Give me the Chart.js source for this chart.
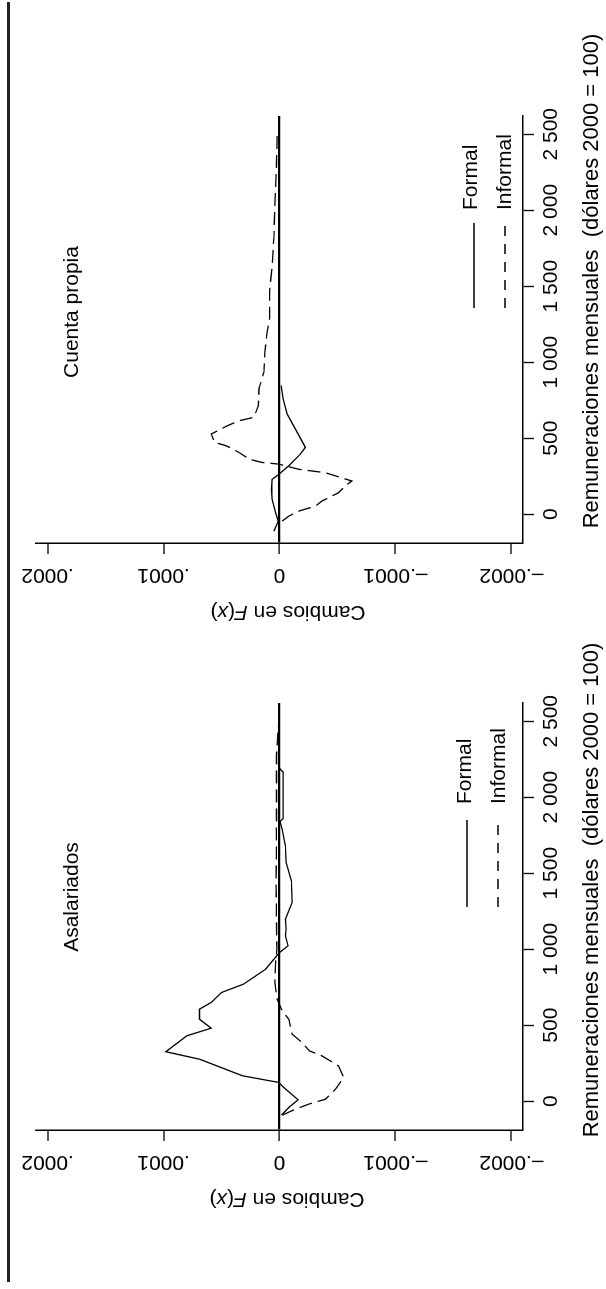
<!DOCTYPE html>
<html lang="es">
<head>
<meta charset="utf-8">
<title>Cambios en F(x)</title>
<script src="https://cdn.jsdelivr.net/npm/chart.js@4.4.0/dist/chart.umd.min.js"></script>
<style>
  html, body { margin: 0; padding: 0; background: #fff; overflow: hidden; }
  body { width: 606px; height: 1289px; position: relative; }
  /* the figure is drawn landscape and turned a quarter left, as in the print */
  #frame {
    position: absolute; left: 0; top: 0;
    width: 1289px; height: 606px;
    transform-origin: 0 0;
    transform: translateY(1289px) rotate(-90deg);
  }
  #rule { position: absolute; left: 7px; top: 7px; width: 1280px; height: 3px; background: #222; }
  canvas { position: absolute; top: 0; }
  #chartA { left: 0; }
  #chartB { left: 587px; }
</style>
</head>
<body>
<div id="frame">
  <div id="rule"></div>
  <canvas id="chartA" width="690" height="606"></canvas>
  <canvas id="chartB" width="690" height="606"></canvas>
</div>
<script>
// ---- data ----
const xTickValues = [0, 500, 1000, 1500, 2000, 2500];
const xTickLabels = ['0', '500', '1 000', '1 500', '2 000', '2 500'];
const yTickValues = [-0.0002, -0.0001, 0, 0.0001, 0.0002];
const yTickLabels = ['\u2013.0002', '\u2013.0001', '0', '.0001', '.0002'];

const xTitle = 'Remuneraciones mensuales  (d\u00f3lares 2000 = 100)';
const seriesNames = ['Formal', 'Informal'];

// Asalariados
const asalFormalRem = [-92, -42, 9, 90, 123, 167, 276, 325, 430, 480, 539, 605, 649, 715, 770, 868,
  978, 1022, 1088, 1132, 1197, 1307, 1450, 1570, 1680, 1790, 1840, 1860, 2165, 2190];
const asalFormalVal = [-1.7e-6, -8.0e-6, -1.6e-5, -3.7e-6, 0.6e-6, 3.2e-5, 6.9e-5, 9.8e-5, 8.0e-5, 5.9e-5,
  6.9e-5, 6.9e-5, 5.9e-5, 5.0e-5, 3.1e-5, 1.2e-5, 0, -7.4e-6, -5.1e-6, -5.7e-6, -5.1e-6, -1.09e-5,
  -1.03e-5, -5.7e-6, -5.1e-6, -2.3e-6, -0.5e-6, -3.1e-6, -3.0e-6, 0];

const asalInformalRem = [-92, -53, -20, 13, 79, 156, 232, 298, 331, 386, 441, 539, 594, 671, 781, 912,
  1000, 1395, 1833, 2272, 2469];
const asalInformalVal = [-2.3e-6, -1.37e-5, -2.51e-5, -3.97e-5, -4.83e-5, -5.54e-5, -5.09e-5, -3.66e-5,
  -2.57e-5, -1.94e-5, -1.09e-5, -8.0e-6, -2.3e-6, 2.0e-6, 4.0e-6, 3.4e-6, 2.3e-6, 2.9e-6, 2.6e-6,
  2.6e-6, 1.1e-6];

// Cuenta propia
const cpFormalRem = [-112, -46, 9, 97, 163, 229, 262, 318, 395, 439, 560, 659, 759, 847];
const cpFormalVal = [4.9e-6, 1.1e-6, 3.4e-6, 6.3e-6, 6.9e-6, 6.3e-6, 0.6e-6, -8.0e-6, -1.8e-5, -2.23e-5,
  -1.37e-5, -6.6e-6, -3.1e-6, -1.4e-6];

const cpInformalRem = [-46, -13, 20, 53, 86, 141, 185, 218, 273, 295, 329, 340, 362, 406, 450, 472, 527,
  582, 615, 637, 714, 825, 935, 1067, 1200, 1288, 1464, 1641, 1817, 2037, 2302, 2500];
const cpInformalVal = [-2.3e-6, -8.0e-6, -1.66e-5, -3.11e-5, -3.66e-5, -5.09e-5, -5.66e-5, -6.23e-5,
  -3.94e-5, -1.66e-5, 0.6e-6, 1.49e-5, 2.63e-5, 3.49e-5, 4.6e-5, 5.6e-5, 5.89e-5, 4.49e-5, 3.49e-5,
  2.2e-5, 1.83e-5, 1.77e-5, 1.34e-5, 1.26e-5, 1.06e-5, 8.6e-6, 8.6e-6, 6.3e-6, 4.9e-6, 4.0e-6, 2.6e-6,
  2.0e-6];

// ---- drawing ----
const FONT = '"Liberation Sans", Arial, Helvetica, sans-serif';
Chart.defaults.font.family = FONT;
Chart.defaults.font.size = 21;
Chart.defaults.color = '#000';

const toPoints = (rem, val) => rem.map((r, i) => ({ x: r, y: val[i] }));

// titles, y-axis title with italic F and x, and the little legend
const panelText = {
  id: 'panelText',
  afterDraw(chart, args, o) {
    const { ctx, chartArea: a } = chart;
    ctx.save();
    ctx.fillStyle = '#000';
    ctx.textBaseline = 'alphabetic';
    ctx.textAlign = 'center';
    ctx.font = `21px ${FONT}`;
    ctx.fillText(o.title, a.left + o.titleX, 78);
    ctx.font = `22px ${FONT}`;
    ctx.fillText(xTitle, a.left + o.xTitleX, 598);

    // legend keys
    ctx.strokeStyle = '#000';
    ctx.lineWidth = 1.3;
    ctx.textAlign = 'left';
    ctx.font = `21px ${FONT}`;
    o.legend.forEach((row, i) => {
      ctx.setLineDash(row.dash);
      ctx.beginPath();
      ctx.moveTo(a.left + o.keyFrom, row.line);
      ctx.lineTo(a.left + o.keyTo, row.line);
      ctx.stroke();
      ctx.fillText(seriesNames[i], a.left + o.keyText, row.base);
    });
    ctx.setLineDash([]);

    // y-axis title, rotated
    const parts = [['Cambios en ', false], ['F', true], ['(', false], ['x', true], [')', false]];
    const fontOf = it => `${it ? 'italic ' : ''}21px ${FONT}`;
    let total = 0;
    parts.forEach(([t, it]) => { ctx.font = fontOf(it); total += ctx.measureText(t).width; });
    ctx.translate(a.left - 69, o.yTitleY);
    ctx.rotate(-Math.PI / 2);
    ctx.textBaseline = 'middle';
    let x = -total / 2;
    parts.forEach(([t, it]) => {
      ctx.font = fontOf(it);
      ctx.fillText(t, x, 0);
      x += ctx.measureText(t).width;
    });
    ctx.restore();
  }
};

function makePanel(id, formal, informal, text) {
  return new Chart(document.getElementById(id), {
    type: 'line',
    data: {
      datasets: [
        { label: seriesNames[0], data: formal, borderColor: '#000', borderWidth: 1.3,
          pointRadius: 0, tension: 0, fill: false },
        { label: seriesNames[1], data: informal, borderColor: '#000', borderWidth: 1.3,
          borderDash: [13, 6], pointRadius: 0, tension: 0, fill: false }
      ]
    },
    options: {
      responsive: false,
      animation: false,
      devicePixelRatio: 1,
      layout: { padding: { left: 0, top: 36, right: 104, bottom: 0 } },
      plugins: { legend: { display: false }, tooltip: { enabled: false }, panelText: text },
      scales: {
        x: {
          type: 'linear', position: 'bottom', min: -190, max: 2620,
          afterBuildTicks: s => { s.ticks = xTickValues.map(v => ({ value: v })); },
          afterFit: s => { s.height = 83; },
          ticks: { autoSkip: false, maxRotation: 0, minRotation: 0, padding: 5,
            callback: (v, i) => xTickLabels[i] },
          grid: { drawOnChartArea: false, drawTicks: true, tickLength: 11, tickColor: '#000', tickWidth: 1.3 },
          border: { display: true, color: '#000', width: 1.5 }
        },
        y: {
          type: 'linear', position: 'left', min: -0.00021, max: 0.00021,
          afterBuildTicks: s => { s.ticks = yTickValues.map(v => ({ value: v })); },
          afterFit: s => { s.width = 159; },
          ticks: { autoSkip: false, minRotation: 90, maxRotation: 90, crossAlign: 'center', padding: -11.5,
            callback: (v, i) => yTickLabels[i] },
          grid: {
            drawOnChartArea: true, drawTicks: true, tickLength: 11, tickColor: '#000', tickWidth: 1.3,
            color: c => (c.tick && c.tick.value === 0 ? '#000' : 'rgba(0,0,0,0)'),
            lineWidth: c => (c.tick && c.tick.value === 0 ? 2.2 : 0)
          },
          border: { display: true, color: '#000', width: 1.5 }
        }
      }
    },
    plugins: [panelText]
  });
}

makePanel('chartA',
  toPoints(asalFormalRem, asalFormalVal),
  toPoints(asalInformalRem, asalInformalVal),
  { title: 'Asalariados', titleX: 233, xTitleX: 240, yTitleY: 287,
    keyFrom: 223, keyTo: 310, keyText: 326,
    legend: [{ line: 467, base: 471, dash: [] }, { line: 498, base: 505, dash: [10, 8] }] });

makePanel('chartB',
  toPoints(cpFormalRem, cpFormalVal),
  toPoints(cpInformalRem, cpInformalVal),
  { title: 'Cuenta propia', titleX: 231, xTitleX: 262, yTitleY: 288,
    keyFrom: 235, keyTo: 320, keyText: 333,
    legend: [{ line: 474, base: 477, dash: [] }, { line: 505, base: 511, dash: [10, 8] }] });
</script>
</body>
</html>
